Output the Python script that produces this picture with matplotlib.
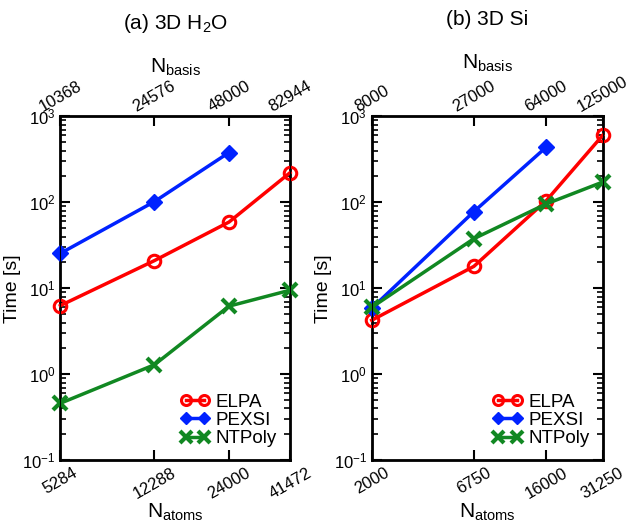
import matplotlib
matplotlib.use("Agg")
import matplotlib.pyplot as plt
from matplotlib.ticker import LogLocator, NullLocator, NullFormatter

plt.rcParams['font.family'] = ['Liberation Sans', 'DejaVu Sans']
plt.rcParams['mathtext.fontset'] = 'custom'
plt.rcParams['mathtext.rm'] = 'Liberation Sans'
plt.rcParams['mathtext.it'] = 'Liberation Sans:italic'

# (a) 3D H2O
h2o_atoms = [5284, 12288, 24000, 41472]
h2o_basis = ['10368', '24576', '48000', '82944']
h2o_elpa = [6.3, 21, 59, 221]
h2o_pexsi = [25.5, 102, 380]
h2o_ntpoly = [0.46, 1.29, 6.2, 9.5]

# (b) 3D Si
si_atoms = [2000, 6750, 16000, 31250]
si_basis = ['8000', '27000', '64000', '125000']
si_elpa = [4.25, 18, 105, 600]
si_pexsi = [5.85, 78, 440]
si_ntpoly = [6.0, 37.8, 96, 172]


def panel(ax, title, atoms, basis, elpa, pexsi, ntpoly):
    lw = 2.5
    ax.plot(atoms, elpa, color='#ff0000', lw=lw, marker='o', ms=9,
            mfc='none', mew=2.2, label='ELPA', clip_on=False, zorder=3)
    ax.plot(atoms[:len(pexsi)], pexsi, color='#0022ff', lw=lw, marker='D',
            ms=8, label='PEXSI', clip_on=False, zorder=3)
    ax.plot(atoms, ntpoly, color='#118822', lw=lw, marker='x', ms=10,
            mew=3, label='NTPoly', clip_on=False, zorder=3)
    ax.set_xscale('log')
    ax.set_yscale('log')
    ax.set_xlim(atoms[0], atoms[-1])
    ax.set_ylim(0.1, 1000)
    ax.set_xticks(atoms)
    ax.set_xticklabels([str(a) for a in atoms], rotation=30, ha='center')
    ax.xaxis.set_minor_locator(NullLocator())
    ax.yaxis.set_minor_locator(LogLocator(base=10, subs=range(2, 10)))
    ax.yaxis.set_minor_formatter(NullFormatter())
    ax.tick_params(axis='both', which='major', direction='in', length=7,
                   width=1.5, labelsize=12, right=True)
    ax.tick_params(axis='y', which='minor', direction='in', length=4,
                   width=1.2, right=True)
    for s in ax.spines.values():
        s.set_linewidth(2)
    ax.set_ylabel('Time [s]', fontsize=14, labelpad=1)
    ax.set_xlabel(r'N$_{\rm atoms}$', fontsize=15, labelpad=0)
    leg = ax.legend(loc='lower right', frameon=False, numpoints=2, fontsize=13.5,
                    handlelength=1.6, handletextpad=0.3, labelspacing=0.05,
                    borderaxespad=0.3, markerscale=0.8)

    top = ax.twiny()
    top.set_xscale('log')
    top.set_xlim(atoms[0], atoms[-1])
    top.set_xticks(atoms)
    top.set_xticklabels(basis, rotation=30, ha='center')
    top.xaxis.set_minor_locator(NullLocator())
    top.tick_params(axis='x', which='major', direction='in', length=7,
                    width=1.5, labelsize=12, pad=1)
    top.set_xlabel(r'N$_{\rm basis}$', fontsize=15, labelpad=4)
    top.set_title(title, fontsize=15, pad=20)


fig = plt.figure(figsize=(6.29, 5.29), dpi=100)
ax1 = fig.add_axes([0.096, 0.130, 0.365, 0.650])
ax2 = fig.add_axes([0.591, 0.130, 0.367, 0.650])

panel(ax1, r'(a) 3D H$_2$O', h2o_atoms, h2o_basis, h2o_elpa, h2o_pexsi, h2o_ntpoly)
panel(ax2, '(b) 3D Si', si_atoms, si_basis, si_elpa, si_pexsi, si_ntpoly)

fig.savefig('out.png', dpi=100)
